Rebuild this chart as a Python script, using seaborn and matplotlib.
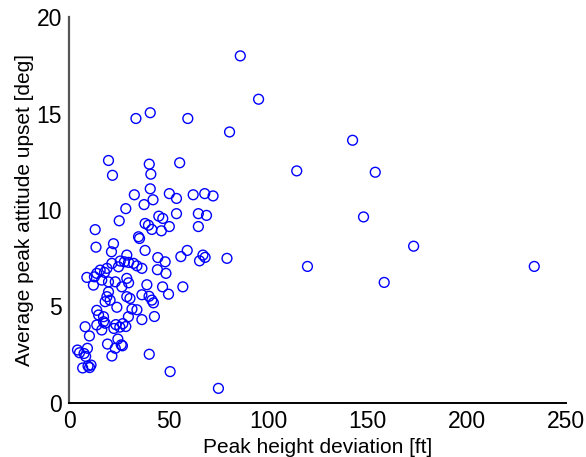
import matplotlib
matplotlib.use("Agg")
import matplotlib.pyplot as plt
import seaborn as sns
import pandas as pd

# Peak height deviation [ft] and average peak attitude upset [deg] per run
height_dev = [
    86.1, 95.3, 40.8, 33.6, 59.7, 80.7, 142.6, 114.5, 154.0, 148.1,
    173.3, 119.9, 158.5, 234.0, 19.8, 40.3, 55.6, 21.8, 41.1, 40.8,
    32.8, 50.4, 54.0, 42.2, 37.7, 62.4, 68.2, 72.4, 28.5, 25.2,
    45.1, 47.1, 54.0, 65.0, 69.1, 13.1, 38.2, 39.9, 50.4, 65.0,
    46.4, 41.6, 34.9, 35.4, 13.5, 22.3, 21.3, 38.2, 59.4, 56.2,
    44.6, 48.3, 67.3, 68.4, 65.6, 79.4, 29.0, 25.7, 27.8, 29.9,
    32.4, 34.1, 36.6, 24.8, 21.5, 19.0, 15.6, 13.9, 17.8, 12.7,
    8.9, 12.2, 16.4, 19.8, 23.2, 29.0, 29.9, 39.1, 26.5, 44.4,
    48.7, 47.0, 57.2, 50.0, 19.8, 19.0, 20.6, 18.1, 24.0, 29.0,
    30.6, 36.6, 40.2, 41.6, 42.4, 31.6, 34.1, 13.9, 14.8, 17.3,
    42.9, 29.8, 36.6, 17.3, 18.1, 16.4, 13.9, 8.05, 10.2, 23.5,
    25.5, 27.0, 22.5, 28.5, 4.2, 5.2, 9.2, 7.5, 8.3, 19.3,
    23.2, 26.2, 26.8, 21.5, 40.3, 50.8, 75.1, 6.8, 9.5, 10.3,
    11.0, 24.5,
]
attitude_upset = [
    18.0, 15.75, 15.05, 14.75, 14.75, 14.05, 13.62, 12.03, 11.96, 9.64,
    8.12, 7.07, 6.24, 7.07, 12.57, 12.38, 12.45, 11.80, 11.86, 11.10,
    10.79, 10.85, 10.60, 10.53, 10.28, 10.79, 10.85, 10.73, 10.07, 9.44,
    9.68, 9.56, 9.81, 9.81, 9.72, 8.98, 9.30, 9.21, 9.14, 9.14,
    8.92, 8.99, 8.61, 8.52, 8.07, 8.25, 7.83, 7.90, 7.90, 7.58,
    7.53, 7.31, 7.66, 7.54, 7.36, 7.49, 7.66, 7.35, 7.31, 7.28,
    7.23, 7.10, 6.97, 7.05, 7.23, 6.97, 6.88, 6.71, 6.76, 6.53,
    6.50, 6.10, 6.36, 6.27, 6.27, 6.45, 6.22, 6.12, 6.01, 6.90,
    6.71, 6.01, 6.01, 5.63, 5.75, 5.50, 5.32, 5.24, 4.95, 5.50,
    5.41, 5.60, 5.52, 5.32, 5.18, 4.86, 4.82, 4.79, 4.55, 4.46,
    4.47, 4.46, 4.31, 4.20, 4.12, 3.77, 4.03, 3.94, 3.46, 4.05,
    3.92, 4.10, 3.85, 3.95, 2.73, 2.59, 2.82, 2.55, 2.40, 3.04,
    2.82, 3.00, 2.95, 2.42, 2.51, 1.61, 0.74, 1.80, 1.90, 1.82,
    1.95, 3.30,
]

x_ticks = [0, 50, 100, 150, 200, 250]
y_ticks = [0, 5, 10, 15, 20]

df = pd.DataFrame({"dev": height_dev, "upset": attitude_upset})

sns.set_style("white")
plt.rcParams["font.family"] = ["Liberation Sans", "DejaVu Sans"]

fig = plt.figure(figsize=(5.86, 4.57), dpi=100)
ax = fig.add_axes([0.118, 0.119, 0.848, 0.843])

sns.scatterplot(data=df, x="dev", y="upset", ax=ax, s=50,
                color="blue", linewidth=1.0, legend=False)
pts = ax.collections[0]
pts.set_facecolor("none")
pts.set_edgecolor("#0000ff")

ax.set_xlim(0, 250)
ax.set_ylim(0, 20)
ax.set_xticks(x_ticks)
ax.set_yticks(y_ticks)
ax.tick_params(axis="both", direction="in", length=5, width=1.2,
               labelsize=16.5, colors="black", pad=5)

for side in ("top", "right"):
    ax.spines[side].set_visible(False)
ax.spines["left"].set_color("#555555")
ax.spines["left"].set_linewidth(1.6)
ax.spines["bottom"].set_color("black")
ax.spines["bottom"].set_linewidth(1.4)

ax.set_xlabel("Peak height deviation [ft]", fontsize=15, labelpad=4,
              color="black")
ax.set_ylabel("Average peak attitude upset [deg]", fontsize=15,
              labelpad=2, color="black")

fig.savefig("out.png", dpi=100, facecolor="white")
